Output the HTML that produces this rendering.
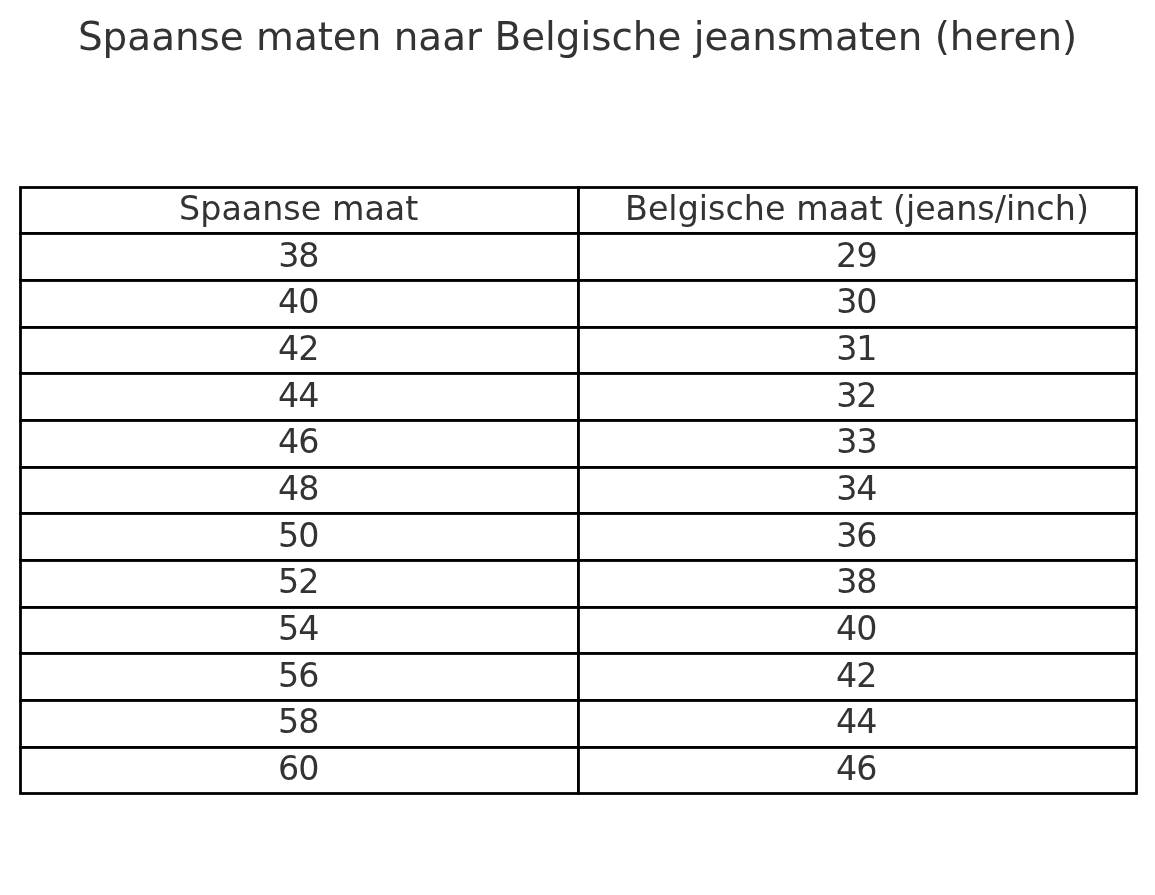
<!DOCTYPE html>
<html lang="nl">
<head>
<meta charset="utf-8">
<title>Spaanse maten naar Belgische jeansmaten (heren)</title>
<style>
html,body{margin:0;padding:0;background:#fff;}
body{width:1155px;height:895px;overflow:hidden;}
svg{display:block;}
text{font-family:"DejaVu Sans","Liberation Sans",sans-serif;fill:#333333;}
.t{font-size:38.89px;}
.c{font-size:33.33px;}
.l{fill:#000;}
</style>
</head>
<body>
<svg width="1155" height="895" viewBox="0 0 1155 895">
<rect width="1155" height="895" fill="#ffffff"/>
<rect x="20.5" y="187.5" width="1116" height="606" fill="none" stroke="#000" stroke-width="2.78"/>
<rect class="l" x="19.11" y="232.01" width="1118.78" height="2.88"/>
<rect class="l" x="19.11" y="279.01" width="1118.78" height="2.88"/>
<rect class="l" x="19.11" y="326.01" width="1118.78" height="2.88"/>
<rect class="l" x="19.11" y="372.01" width="1118.78" height="2.88"/>
<rect class="l" x="19.11" y="419.01" width="1118.78" height="2.88"/>
<rect class="l" x="19.11" y="466.01" width="1118.78" height="2.88"/>
<rect class="l" x="19.11" y="512.01" width="1118.78" height="2.88"/>
<rect class="l" x="19.11" y="559.01" width="1118.78" height="2.88"/>
<rect class="l" x="19.11" y="606.01" width="1118.78" height="2.88"/>
<rect class="l" x="19.11" y="652.01" width="1118.78" height="2.88"/>
<rect class="l" x="19.11" y="699.01" width="1118.78" height="2.88"/>
<rect class="l" x="19.11" y="746.01" width="1118.78" height="2.88"/>
<rect class="l" x="577.01" y="186.11" width="2.88" height="608.78"/>
<text id="title" class="t" x="78 102.5 127.25 151.25 175 199.5 219.75 243.5 256 294 317.75 332.75 356.75 381.25 393.75 418.25 442.25 466 482 494.5 521.25 545 555.75 580.5 591.25 611.5 632.75 657.5 681.25 693.75 704.5 728.5 752.25 777 797 835 858.75 873.75 897.75 922.75 934.75 949.75 974.5 998.25 1013.5 1037.5 1062" y="50">Spaanse maten naar Belgische jeansmaten (heren)</text>
<text id="r0_c0" class="c" x="179 200.25 221.5 241.75 262.25 283.25 300.75 321.25 332 364.5 384.75 405.25" y="220">Spaanse maat</text>
<text id="r0_c1" class="c" x="625 648 668.25 677.75 698.75 708 725.5 743.75 765 785.25 796.25 828.75 849 869.5 882.25 893 906 915.25 935.75 956.25 977.25 994.75 1006 1015.25 1036.25 1054.75 1076" y="220">Belgische maat (jeans/inch)</text>
<text id="r1_c0" class="c" x="278.25 298.25" y="267">38</text>
<text id="r1_c1" class="c" x="836 856.5" y="267">29</text>
<text id="r2_c0" class="c" x="278 298.25" y="313">40</text>
<text id="r2_c1" class="c" x="836.25 856.25" y="313">30</text>
<text id="r3_c0" class="c" x="278 298.25" y="360">42</text>
<text id="r3_c1" class="c" x="836.25 856.25" y="360">31</text>
<text id="r4_c0" class="c" x="278 298.25" y="407">44</text>
<text id="r4_c1" class="c" x="836.25 856.25" y="407">32</text>
<text id="r5_c0" class="c" x="278 298.25" y="453">46</text>
<text id="r5_c1" class="c" x="836.25 856.5" y="453">33</text>
<text id="r6_c0" class="c" x="278 298.25" y="500">48</text>
<text id="r6_c1" class="c" x="836.25 856.25" y="500">34</text>
<text id="r7_c0" class="c" x="278 298.25" y="547">50</text>
<text id="r7_c1" class="c" x="836.25 856.25" y="547">36</text>
<text id="r8_c0" class="c" x="278 298.25" y="593">52</text>
<text id="r8_c1" class="c" x="836.25 856.25" y="593">38</text>
<text id="r9_c0" class="c" x="278 298.25" y="640">54</text>
<text id="r9_c1" class="c" x="836 856.25" y="640">40</text>
<text id="r10_c0" class="c" x="278 298.25" y="687">56</text>
<text id="r10_c1" class="c" x="836 856.25" y="687">42</text>
<text id="r11_c0" class="c" x="278 298.25" y="733">58</text>
<text id="r11_c1" class="c" x="836 856.25" y="733">44</text>
<text id="r12_c0" class="c" x="278 298.25" y="780">60</text>
<text id="r12_c1" class="c" x="836 856.25" y="780">46</text>
</svg>
</body>
</html>
